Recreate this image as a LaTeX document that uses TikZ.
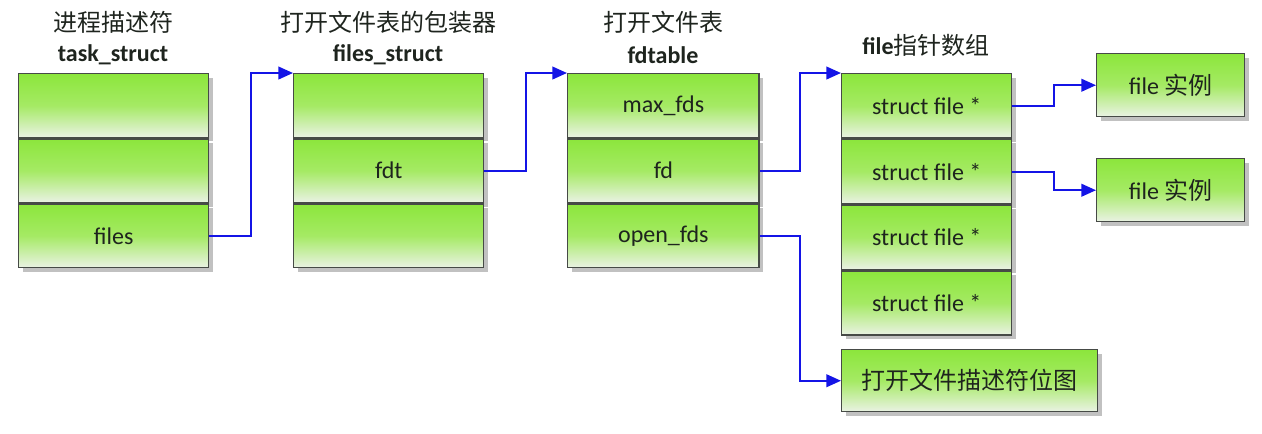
\documentclass[tikz,border=0pt]{standalone}
\usepackage{fontspec}
\setmainfont{Carlito}
\newfontfamily\cjk{Noto Sans CJK SC}
\usetikzlibrary{arrows.meta,shadows}
\definecolor{gtop}{RGB}{140,230,60}
\definecolor{gmid}{RGB}{165,234,100}
\definecolor{gbot}{RGB}{234,242,228}
\definecolor{bord}{RGB}{70,74,70}
\definecolor{txt}{RGB}{30,36,30}
\definecolor{arr}{RGB}{20,20,230}
\tikzset{
  cell/.style={draw=bord, line width=1.1pt, top color=gtop, bottom color=gbot, middle color=gmid,
    inner sep=0pt, anchor=north west, text=txt,
    font=\fontsize{18}{20}\selectfont,
    drop shadow={shadow xshift=3pt, shadow yshift=-3pt, fill=black!35, opacity=0.7}},
  ttl/.style={text=txt, inner sep=0pt, font=\fontsize{18}{20}\selectfont},
  conn/.style={draw=arr, line width=1.5pt, -{Triangle[length=11pt,width=9.5pt]}}
}
\begin{document}
\begin{tikzpicture}[x=0.75pt,y=-0.75pt]
\useasboundingbox (0,0) rectangle (1262,433);
% titles
\node[ttl] (t1a) at (113,22) {\cjk 进程描述符};
\node[ttl] (t1b) at (113,55) {\bfseries task\_struct};
\node[ttl] (t2a) at (388,22) {\cjk 打开文件表的包装器};
\node[ttl] (t2b) at (388,55) {\bfseries files\_struct};
\node[ttl] (t3a) at (663,22) {\cjk 打开文件表};
\node[ttl] (t3b) at (663,55) {\bfseries fdtable};
\node[ttl] (t4a) at (926,45) {\bfseries file\cjk\mdseries 指针数组};
% box 1
\node[cell, minimum width=142.5pt, minimum height=47.75pt] (b1r1) at (18,73) {};
\node[cell, minimum width=142.5pt, minimum height=47.75pt] (b1r2) at (b1r1.south west) {};
\node[cell, minimum width=142.5pt, minimum height=47.75pt] (b1r3) at (b1r2.south west) {files};
% box 2
\node[cell, minimum width=142.5pt, minimum height=47.75pt] (b2r1) at (293,73) {};
\node[cell, minimum width=142.5pt, minimum height=47.75pt] (b2r2) at (b2r1.south west) {fdt};
\node[cell, minimum width=142.5pt, minimum height=47.75pt] (b2r3) at (b2r2.south west) {};
% box 3
\node[cell, minimum width=143.5pt, minimum height=47.75pt] (b3r1) at (567,73) {max\_fds};
\node[cell, minimum width=143.5pt, minimum height=47.75pt] (b3r2) at (b3r1.south west) {fd};
\node[cell, minimum width=143.5pt, minimum height=47.75pt] (b3r3) at (b3r2.south west) {open\_fds};
% box 4
\node[cell, minimum width=127.5pt, minimum height=48.2pt] (b4r1) at (841,73) {struct file *};
\node[cell, minimum width=127.5pt, minimum height=48.2pt] (b4r2) at (b4r1.south west) {struct file *};
\node[cell, minimum width=127.5pt, minimum height=48.2pt] (b4r3) at (b4r2.south west) {struct file *};
\node[cell, minimum width=127.5pt, minimum height=48.2pt] (b4r4) at (b4r3.south west) {struct file *};
% file instances
\node[cell, minimum width=111pt, minimum height=47.25pt] (f1) at (1096,53) {file {\cjk 实例}};
\node[cell, minimum width=111pt, minimum height=47.25pt] (f2) at (1096,158) {file {\cjk 实例}};
% bitmap
\node[cell, minimum width=192pt, minimum height=46.5pt] (bm) at (841,349) {\cjk 打开文件描述符位图};
% connectors
\draw[conn] (b1r3.east) -- ++(42,0) |- (b2r1.north west);
\draw[conn] (b2r2.east) -- ++(42,0) |- (b3r1.north west);
\draw[conn] (b3r2.east) -- ++(40,0) |- (b4r1.north west);
\draw[conn] (b3r3.east) -- ++(40,0) |- (bm.west);
\draw[conn] (b4r1.east) -- ++(42,0) |- (f1.west);
\draw[conn] (b4r2.east) -- ++(42,0) |- (f2.west);
\end{tikzpicture}
\end{document}
